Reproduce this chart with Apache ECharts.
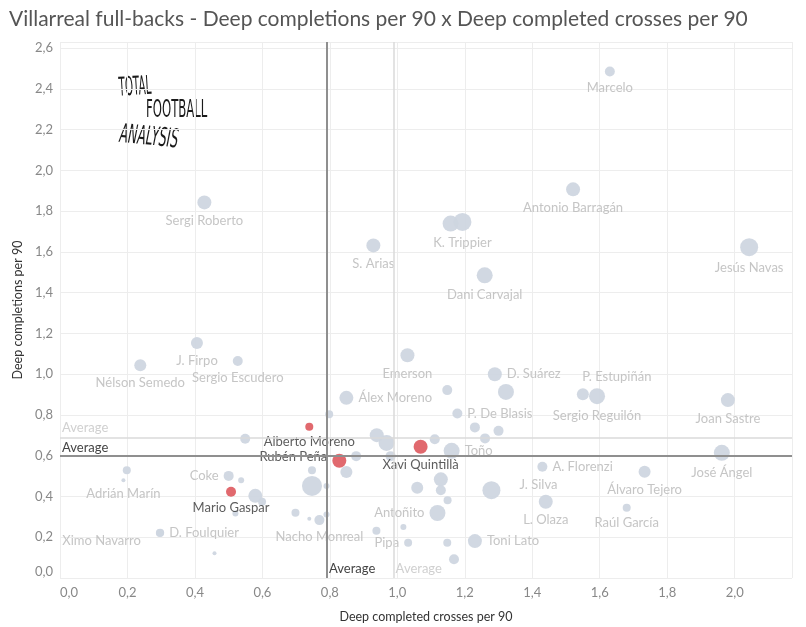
<!DOCTYPE html>
<html><head><meta charset="utf-8">
<script src="https://cdn.jsdelivr.net/npm/echarts@6/dist/echarts.min.js"></script>
<style>html,body{margin:0;padding:0;background:#fff}#c{width:806px;height:627px}</style>
</head><body><div id="c"></div>
<script>
// ---- data ----
const players = ['Marcelo','Antonio Barragán','Jesús Navas','Sergi Roberto','','K. Trippier','S. Arias','Dani Carvajal',
 'J. Firpo','Nélson Semedo','Sergio Escudero','Emerson','D. Suárez','Álex Moreno','P. De Blasis','P. Estupiñán',
 'Sergio Reguilón','Joan Sastre','José Ángel','A. Florenzi','Álvaro Tejero','J. Silva','L. Olaza','Raúl García',
 'Toni Lato','Toño','Antoñito','Pipa','Nacho Monreal','Adrián Marín','Coke','D. Foulquier','Ximo Navarro',
 '','','','','','','','','','','','','','','','','','','','','','','','','','','','','','','','',''];
const crosses = [1.630,1.521,2.043,0.428,1.158,1.193,0.929,1.259,
 0.406,0.238,0.527,1.030,1.289,0.849,1.178,1.550,
 1.592,1.980,1.962,1.430,1.733,1.279,1.440,1.680,
 1.230,1.161,1.119,1.032,0.769,0.188,0.500,0.297,0.296,
 0.798,0.939,0.968,1.111,1.148,1.322,1.230,1.300,1.260,0.878,0.980,0.849,0.747,0.747,0.790,1.129,
 1.059,1.129,1.149,0.698,0.739,0.790,0.938,1.018,1.148,1.168,0.549,0.579,0.599,0.537,0.520,0.458,0.198];
const completions = [2.485,1.907,1.623,1.843,1.739,1.747,1.632,1.485,
 1.153,1.044,1.065,1.093,1.000,0.884,0.807,0.902,
 0.892,0.873,0.614,0.546,0.521,0.431,0.374,0.345,
 0.181,0.624,0.319,0.173,0.284,0.480,0.501,0.222,0.221,
 0.804,0.701,0.663,0.681,0.922,0.913,0.739,0.722,0.685,0.598,0.598,0.520,0.529,0.452,0.452,0.484,
 0.443,0.431,0.382,0.320,0.291,0.312,0.232,0.250,0.173,0.092,0.683,0.403,0.374,0.480,0.317,0.121,0.529];
const bubble = [5,7,9,7,8,9,7,8,
 6,6,5,7,7,7,5,6,
 8,7,8,5,6,9,7,4,
 7,8,8,4,5,2,5,4,4,
 4,7,8,5,5,8,5,5,5,5,5,6,4,10,3,7,
 6,5,4,4,2,3,4,3,4,5,5,7,4,3,3,2,4];

const vilPlayers = ['Mario Gaspar','Rubén Peña','Alberto Moreno','Xavi Quintillà'];
const vilCrosses = [0.507,0.828,0.739,1.069];
const vilCompletions = [0.423,0.575,0.742,0.644];
const vilBubble = [5,7,4,7];

const leagueAvgCrosses = 0.986;
const leagueAvgCompletions = 0.687;
const tickStep = 0.2;

// ---- styling (label placement) ----
const labelPlace = {
 'D. Suárez':'right','Álex Moreno':'right','P. De Blasis':'right','A. Florenzi':'right','Toni Lato':'right',
 'Toño':'right','D. Foulquier':'right','J. Silva':'right',
 'Antoñito':'left','Pipa':'left','Coke':'left','Ximo Navarro':'left','Rubén Peña':'left',
 'P. Estupiñán':'top'
};
const labelOffset = {'P. Estupiñán':[34,0],'J. Silva':[14,-5],'Ximo Navarro':[-10,8],'Rubén Peña':[0,-4]};

const vilAvgX = vilCrosses.reduce((a,b)=>a+b,0)/vilCrosses.length;
const vilAvgY = vilCompletions.reduce((a,b)=>a+b,0)/vilCompletions.length;

function mk(names, xs, ys, sz, labelColor) {
  return names.map((n,i)=>({
    name:n, value:[xs[i], ys[i]], symbolSize: 2*sz[i],
    label:{show: n!=='', position: labelPlace[n]||'bottom', offset: labelOffset[n]||[0,0], color: labelColor}
  }));
}
const fmt = v => Math.abs(v/tickStep - Math.round(v/tickStep)) < 1e-6 ? v.toFixed(1).replace('.',',') : '';
const FONT = 'Lato';
const LOGO = '"DejaVu Sans Condensed"';

const chart = echarts.init(document.getElementById('c'));
chart.setOption({
  animation:false,
  textStyle:{fontFamily:FONT},
  title:{text:'Villarreal full-backs - Deep completions per 90 x Deep completed crosses per 90',
    left:4, top:4, textStyle:{fontSize:21, fontWeight:'normal', color:'#555', fontFamily:FONT}},
  grid:{left:60, right:14, top:42, bottom:49, outerBoundsMode:'none', containLabel:false},
  xAxis:{type:'value', min:0, max:2.17, interval:tickStep,
    name:'Deep completed crosses per 90', nameLocation:'middle', nameGap:32,
    nameTextStyle:{color:'#333', fontSize:12.5, fontFamily:FONT},
    axisLine:{show:false}, axisTick:{show:false},
    axisLabel:{formatter:fmt, color:'#888', fontSize:13, margin:8, alignMinLabel:'left'},
    splitLine:{show:true, lineStyle:{color:'#ededed', width:1}}},
  yAxis:{type:'value', min:0, max:2.63, interval:tickStep,
    name:'Deep completions per 90', nameLocation:'middle', nameGap:34,
    nameTextStyle:{color:'#333', fontSize:12.5, fontFamily:FONT},
    axisLine:{show:false}, axisTick:{show:false},
    axisLabel:{formatter:fmt, color:'#888', fontSize:13, margin:7, verticalAlignMinLabel:'bottom'},
    splitLine:{show:true, lineStyle:{color:'#ededed', width:1}}},
  graphic:[
    {type:'text', x:118, y:76, rotation:0.06, scaleX:0.44, style:{text:'TOTAL', font:'26px '+LOGO, fill:'#1a1a1a'}},
    {type:'text', x:146, y:98, scaleX:0.52, style:{text:'FOOTBALL', font:'25px '+LOGO, fill:'#1a1a1a'}},
    {type:'text', x:121, y:122, rotation:-0.1, scaleX:0.53, style:{text:'ANALYSIS', font:'italic 26px '+LOGO, fill:'#1a1a1a'}}
  ],
  series:[
    {type:'scatter', z:2,
      itemStyle:{color:'#cfd6e0', opacity:0.95},
      label:{fontSize:13, fontFamily:FONT, formatter:p=>p.name, distance:5},
      data: mk(players, crosses, completions, bubble, '#c2c2c2'),
      markLine:{silent:true, symbol:'none', label:{show:false},
        lineStyle:{color:'#dadada', width:1.5, type:'solid'},
        data:[{xAxis:leagueAvgCrosses},{yAxis:leagueAvgCompletions}]},
      markPoint:{silent:true, symbol:'circle', symbolSize:0,
        label:{show:true, formatter:'Average', color:'#d0d0d0', fontSize:13, fontFamily:FONT, position:'right'},
        data:[{coord:[leagueAvgCrosses,0], label:{offset:[-1,-9], distance:4}},
              {coord:[0,leagueAvgCompletions], label:{offset:[0,-10], distance:2}}]}
    },
    {type:'scatter', z:3,
      itemStyle:{color:'#d9434a'},
      label:{fontSize:13, fontFamily:FONT, formatter:p=>p.name, distance:5},
      data: mk(vilPlayers, vilCrosses, vilCompletions, vilBubble, '#333'),
      markLine:{silent:true, symbol:'none', label:{show:false},
        lineStyle:{color:'#8f8f8f', width:2, type:'solid'},
        data:[{xAxis:vilAvgX},{yAxis:vilAvgY}]},
      markPoint:{silent:true, symbol:'circle', symbolSize:0,
        label:{show:true, formatter:'Average', color:'#444', fontSize:13, fontFamily:FONT, position:'right'},
        data:[{coord:[vilAvgX,0], label:{offset:[0,-9], distance:4}},
              {coord:[0,vilAvgY], label:{offset:[0,-9], distance:2}}]}
    }
  ]
});
</script></body></html>
